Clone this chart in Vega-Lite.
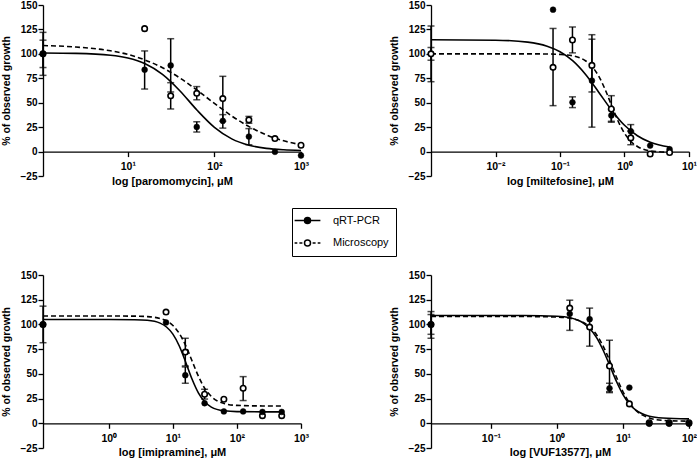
{
  "$schema": "https://vega.github.io/schema/vega-lite/v6.json",
  "padding": {"left": 1, "top": 0, "right": 0, "bottom": 0},
  "background": "white",
  "datasets": {
    "pts": [
      {"d": "paro", "s": "m", "x": 1.047, "y": 100, "lo": 78, "hi": 122},
      {"d": "paro", "s": "q", "x": 1.047, "y": 100, "lo": 86, "hi": 114},
      {"d": "paro", "s": "q", "x": 15.625, "y": 83.8, "lo": 64, "hi": 103},
      {"d": "paro", "s": "m", "x": 15.625, "y": 125.8},
      {"d": "paro", "s": "q", "x": 31.25, "y": 88.2, "lo": 61, "hi": 115.5},
      {"d": "paro", "s": "m", "x": 31.25, "y": 57, "lo": 43.6, "hi": 70.5},
      {"d": "paro", "s": "q", "x": 62.5, "y": 25.2, "lo": 20, "hi": 30.5},
      {"d": "paro", "s": "m", "x": 62.5, "y": 59.6, "lo": 53, "hi": 66.5},
      {"d": "paro", "s": "q", "x": 125, "y": 31.4, "lo": 24, "hi": 37.8},
      {"d": "paro", "s": "m", "x": 125, "y": 54.2, "lo": 31, "hi": 77},
      {"d": "paro", "s": "q", "x": 250, "y": 15.3, "lo": 7, "hi": 23.5},
      {"d": "paro", "s": "m", "x": 250, "y": 32.4, "lo": 29, "hi": 36},
      {"d": "paro", "s": "q", "x": 500, "y": -0.3},
      {"d": "paro", "s": "m", "x": 500, "y": 13.3},
      {"d": "paro", "s": "q", "x": 1000, "y": -4},
      {"d": "paro", "s": "m", "x": 1000, "y": 6.5},

      {"d": "milt", "s": "q", "x": 0.001, "y": 100, "lo": 93.5, "hi": 106.5},
      {"d": "milt", "s": "m", "x": 0.001, "y": 100, "lo": 71.5, "hi": 128.5},
      {"d": "milt", "s": "q", "x": 0.078, "y": 145.2},
      {"d": "milt", "s": "m", "x": 0.078, "y": 86.2, "lo": 47, "hi": 126},
      {"d": "milt", "s": "q", "x": 0.156, "y": 50.4, "lo": 45, "hi": 56},
      {"d": "milt", "s": "m", "x": 0.156, "y": 114.2, "lo": 101, "hi": 127.5},
      {"d": "milt", "s": "q", "x": 0.3125, "y": 72.6, "lo": 25, "hi": 119.6},
      {"d": "milt", "s": "m", "x": 0.3125, "y": 88.2, "lo": 61, "hi": 115},
      {"d": "milt", "s": "q", "x": 0.625, "y": 37, "lo": 31, "hi": 43},
      {"d": "milt", "s": "m", "x": 0.625, "y": 43.6, "lo": 30, "hi": 57.2},
      {"d": "milt", "s": "q", "x": 1.25, "y": 20.8, "lo": 14, "hi": 27.6},
      {"d": "milt", "s": "m", "x": 1.25, "y": 14, "lo": 7, "hi": 21},
      {"d": "milt", "s": "q", "x": 2.5, "y": 6.1},
      {"d": "milt", "s": "m", "x": 2.5, "y": -2.5},
      {"d": "milt", "s": "q", "x": 5, "y": 2.4},
      {"d": "milt", "s": "m", "x": 5, "y": -1},

      {"d": "imip", "s": "q", "x": 0.0938, "y": 100, "lo": 81.5, "hi": 118.5},
      {"d": "imip", "s": "m", "x": 0.0938, "y": 100},
      {"d": "imip", "s": "q", "x": 7.8125, "y": 102},
      {"d": "imip", "s": "m", "x": 7.8125, "y": 112.5},
      {"d": "imip", "s": "q", "x": 15.625, "y": 48.6, "lo": 40.5, "hi": 57},
      {"d": "imip", "s": "m", "x": 15.625, "y": 72, "lo": 58, "hi": 86},
      {"d": "imip", "s": "q", "x": 31.25, "y": 20.3},
      {"d": "imip", "s": "m", "x": 31.25, "y": 29.4, "lo": 24.5, "hi": 34.4},
      {"d": "imip", "s": "q", "x": 62.5, "y": 12},
      {"d": "imip", "s": "m", "x": 62.5, "y": 24.3},
      {"d": "imip", "s": "q", "x": 125, "y": 12},
      {"d": "imip", "s": "m", "x": 125, "y": 35.4, "lo": 23, "hi": 47.2},
      {"d": "imip", "s": "q", "x": 250, "y": 11.5},
      {"d": "imip", "s": "m", "x": 250, "y": 7.7},
      {"d": "imip", "s": "q", "x": 500, "y": 11.5},
      {"d": "imip", "s": "m", "x": 500, "y": 7.7},

      {"d": "vuf", "s": "q", "x": 0.01236, "y": 100, "lo": 86, "hi": 113},
      {"d": "vuf", "s": "m", "x": 0.01236, "y": 100, "lo": 90, "hi": 110},
      {"d": "vuf", "s": "q", "x": 1.5625, "y": 110.7, "lo": 94, "hi": 124.5},
      {"d": "vuf", "s": "m", "x": 1.5625, "y": 116.5},
      {"d": "vuf", "s": "q", "x": 3.125, "y": 105.3},
      {"d": "vuf", "s": "m", "x": 3.125, "y": 97.3, "lo": 78, "hi": 116.5},
      {"d": "vuf", "s": "q", "x": 6.25, "y": 35.4, "lo": 31, "hi": 40.5},
      {"d": "vuf", "s": "m", "x": 6.25, "y": 58, "lo": 32, "hi": 84},
      {"d": "vuf", "s": "q", "x": 12.5, "y": 36.1},
      {"d": "vuf", "s": "m", "x": 12.5, "y": 19.6},
      {"d": "vuf", "s": "q", "x": 25, "y": -0.5},
      {"d": "vuf", "s": "m", "x": 25, "y": 0.5},
      {"d": "vuf", "s": "q", "x": 50, "y": -0.5},
      {"d": "vuf", "s": "m", "x": 50, "y": 0.5},
      {"d": "vuf", "s": "q", "x": 100, "y": -0.5},
      {"d": "vuf", "s": "m", "x": 100, "y": 0.5}
    ],
    "cur": [
      {"d": "paro", "s": "q", "x": 1.047, "y": 100.9},
      {"d": "paro", "s": "q", "x": 2.512, "y": 100.5},
      {"d": "paro", "s": "q", "x": 6.31, "y": 98.6},
      {"d": "paro", "s": "q", "x": 10, "y": 95.7},
      {"d": "paro", "s": "q", "x": 15.85, "y": 89.8},
      {"d": "paro", "s": "q", "x": 25.12, "y": 79.0},
      {"d": "paro", "s": "q", "x": 39.81, "y": 62.3},
      {"d": "paro", "s": "q", "x": 63.1, "y": 42.3},
      {"d": "paro", "s": "q", "x": 100, "y": 24.8},
      {"d": "paro", "s": "q", "x": 158.5, "y": 13.0},
      {"d": "paro", "s": "q", "x": 251.2, "y": 6.5},
      {"d": "paro", "s": "q", "x": 398.1, "y": 3.3},
      {"d": "paro", "s": "q", "x": 631, "y": 1.8},
      {"d": "paro", "s": "q", "x": 1000, "y": 1.1},
      {"d": "paro", "s": "m", "x": 1.047, "y": 108.5},
      {"d": "paro", "s": "m", "x": 2.512, "y": 107.0},
      {"d": "paro", "s": "m", "x": 6.31, "y": 103.1},
      {"d": "paro", "s": "m", "x": 10, "y": 99.4},
      {"d": "paro", "s": "m", "x": 15.85, "y": 93.7},
      {"d": "paro", "s": "m", "x": 25.12, "y": 85.8},
      {"d": "paro", "s": "m", "x": 39.81, "y": 75.4},
      {"d": "paro", "s": "m", "x": 63.1, "y": 62.8},
      {"d": "paro", "s": "m", "x": 100, "y": 49.3},
      {"d": "paro", "s": "m", "x": 158.5, "y": 36.4},
      {"d": "paro", "s": "m", "x": 251.2, "y": 25.5},
      {"d": "paro", "s": "m", "x": 398.1, "y": 17.1},
      {"d": "paro", "s": "m", "x": 631, "y": 11.0},
      {"d": "paro", "s": "m", "x": 1000, "y": 7.0},

      {"d": "milt", "s": "q", "x": 0.001, "y": 114.5},
      {"d": "milt", "s": "q", "x": 0.01, "y": 114.0},
      {"d": "milt", "s": "q", "x": 0.0316, "y": 112.0},
      {"d": "milt", "s": "q", "x": 0.0631, "y": 107.8},
      {"d": "milt", "s": "q", "x": 0.1, "y": 102.2},
      {"d": "milt", "s": "q", "x": 0.1585, "y": 92.8},
      {"d": "milt", "s": "q", "x": 0.2512, "y": 78.7},
      {"d": "milt", "s": "q", "x": 0.3981, "y": 60.8},
      {"d": "milt", "s": "q", "x": 0.631, "y": 42.4},
      {"d": "milt", "s": "q", "x": 1, "y": 26.9},
      {"d": "milt", "s": "q", "x": 1.585, "y": 16.2},
      {"d": "milt", "s": "q", "x": 2.512, "y": 9.5},
      {"d": "milt", "s": "q", "x": 5.012, "y": 4.6},
      {"d": "milt", "s": "m", "x": 0.001, "y": 100},
      {"d": "milt", "s": "m", "x": 0.0316, "y": 100},
      {"d": "milt", "s": "m", "x": 0.0631, "y": 99.85},
      {"d": "milt", "s": "m", "x": 0.1, "y": 99.44},
      {"d": "milt", "s": "m", "x": 0.1585, "y": 97.94},
      {"d": "milt", "s": "m", "x": 0.2512, "y": 92.7},
      {"d": "milt", "s": "m", "x": 0.3162, "y": 86.7},
      {"d": "milt", "s": "m", "x": 0.3981, "y": 77.2},
      {"d": "milt", "s": "m", "x": 0.5012, "y": 63.5},
      {"d": "milt", "s": "m", "x": 0.631, "y": 47.2},
      {"d": "milt", "s": "m", "x": 0.7943, "y": 31.3},
      {"d": "milt", "s": "m", "x": 1, "y": 18.8},
      {"d": "milt", "s": "m", "x": 1.259, "y": 10.3},
      {"d": "milt", "s": "m", "x": 1.585, "y": 5.2},
      {"d": "milt", "s": "m", "x": 2.512, "y": 0.72},
      {"d": "milt", "s": "m", "x": 5.012, "y": -0.76},

      {"d": "imip", "s": "q", "x": 0.0938, "y": 105},
      {"d": "imip", "s": "q", "x": 1, "y": 105},
      {"d": "imip", "s": "q", "x": 2.512, "y": 104.8},
      {"d": "imip", "s": "q", "x": 3.981, "y": 104.2},
      {"d": "imip", "s": "q", "x": 6.31, "y": 101.3},
      {"d": "imip", "s": "q", "x": 7.943, "y": 97.4},
      {"d": "imip", "s": "q", "x": 10, "y": 90.2},
      {"d": "imip", "s": "q", "x": 12.59, "y": 78.2},
      {"d": "imip", "s": "q", "x": 15.85, "y": 61.8},
      {"d": "imip", "s": "q", "x": 19.95, "y": 44.5},
      {"d": "imip", "s": "q", "x": 25.12, "y": 30.5},
      {"d": "imip", "s": "q", "x": 31.62, "y": 21.5},
      {"d": "imip", "s": "q", "x": 39.81, "y": 16.4},
      {"d": "imip", "s": "q", "x": 63.1, "y": 12.6},
      {"d": "imip", "s": "q", "x": 100, "y": 11.75},
      {"d": "imip", "s": "q", "x": 501, "y": 11.5},
      {"d": "imip", "s": "m", "x": 0.0938, "y": 108.5},
      {"d": "imip", "s": "m", "x": 1, "y": 108.5},
      {"d": "imip", "s": "m", "x": 2.512, "y": 108.4},
      {"d": "imip", "s": "m", "x": 3.981, "y": 107.9},
      {"d": "imip", "s": "m", "x": 6.31, "y": 106.0},
      {"d": "imip", "s": "m", "x": 7.943, "y": 103.6},
      {"d": "imip", "s": "m", "x": 10, "y": 98.9},
      {"d": "imip", "s": "m", "x": 12.59, "y": 90.9},
      {"d": "imip", "s": "m", "x": 15.85, "y": 78.6},
      {"d": "imip", "s": "m", "x": 19.95, "y": 63.0},
      {"d": "imip", "s": "m", "x": 25.12, "y": 47.4},
      {"d": "imip", "s": "m", "x": 31.62, "y": 35.1},
      {"d": "imip", "s": "m", "x": 39.81, "y": 27.1},
      {"d": "imip", "s": "m", "x": 63.1, "y": 20.0},
      {"d": "imip", "s": "m", "x": 100, "y": 18.1},
      {"d": "imip", "s": "m", "x": 199.5, "y": 17.6},
      {"d": "imip", "s": "m", "x": 501, "y": 17.5},

      {"d": "vuf", "s": "q", "x": 0.01236, "y": 109},
      {"d": "vuf", "s": "q", "x": 0.3162, "y": 109},
      {"d": "vuf", "s": "q", "x": 1, "y": 108.3},
      {"d": "vuf", "s": "q", "x": 1.585, "y": 106.7},
      {"d": "vuf", "s": "q", "x": 2.512, "y": 101.4},
      {"d": "vuf", "s": "q", "x": 3.162, "y": 95.7},
      {"d": "vuf", "s": "q", "x": 3.981, "y": 86.7},
      {"d": "vuf", "s": "q", "x": 5.012, "y": 73.9},
      {"d": "vuf", "s": "q", "x": 6.31, "y": 58.4},
      {"d": "vuf", "s": "q", "x": 7.943, "y": 42.5},
      {"d": "vuf", "s": "q", "x": 10, "y": 29.0},
      {"d": "vuf", "s": "q", "x": 12.59, "y": 19.3},
      {"d": "vuf", "s": "q", "x": 15.85, "y": 13.0},
      {"d": "vuf", "s": "q", "x": 25.12, "y": 7.1},
      {"d": "vuf", "s": "q", "x": 39.81, "y": 5.3},
      {"d": "vuf", "s": "q", "x": 100, "y": 4.5},
      {"d": "vuf", "s": "m", "x": 0.01236, "y": 108},
      {"d": "vuf", "s": "m", "x": 0.3162, "y": 108},
      {"d": "vuf", "s": "m", "x": 1, "y": 107.5},
      {"d": "vuf", "s": "m", "x": 1.585, "y": 106.2},
      {"d": "vuf", "s": "m", "x": 2.512, "y": 101.9},
      {"d": "vuf", "s": "m", "x": 3.162, "y": 97.2},
      {"d": "vuf", "s": "m", "x": 3.981, "y": 89.5},
      {"d": "vuf", "s": "m", "x": 5.012, "y": 78.0},
      {"d": "vuf", "s": "m", "x": 6.31, "y": 63.2},
      {"d": "vuf", "s": "m", "x": 7.943, "y": 46.8},
      {"d": "vuf", "s": "m", "x": 10, "y": 31.9},
      {"d": "vuf", "s": "m", "x": 12.59, "y": 20.5},
      {"d": "vuf", "s": "m", "x": 15.85, "y": 12.8},
      {"d": "vuf", "s": "m", "x": 25.12, "y": 5.4},
      {"d": "vuf", "s": "m", "x": 39.81, "y": 3.0},
      {"d": "vuf", "s": "m", "x": 100, "y": 2.1}
    ],
    "leg": [
      {"s": "qRT-PCR", "x": 100, "y": 1000},
      {"s": "Microscopy", "x": 100, "y": 1000}
    ]
  },
  "columns": 2,
  "spacing": {"row": 99, "column": 130},
  "bounds": "flush",
  "concat": [
    {
      "width": 258, "height": 171,
      "layer": [
        {"data": {"name": "pts"}, "transform": [{"filter": "datum.d == 'paro' && isValid(datum.lo)"}],
         "mark": {"type": "errorbar", "ticks": true, "size": 7, "thickness": 1.5, "color": "black"},
         "encoding": {
           "x": {"field": "x", "type": "quantitative", "scale": {"type": "log", "domain": [1.047, 1000], "nice": false}, "axis": {"values": [10, 100, 1000], "offset": -24.4}, "title": "log [paromomycin], μM"},
           "y": {"field": "lo", "type": "quantitative", "scale": {"domain": [-25, 150], "nice": false, "zero": false}, "axis": {"values": [-25, 0, 25, 50, 75, 100, 125, 150]}, "title": "% of observed growth"},
           "y2": {"field": "hi"}}},
        {"data": {"name": "cur"}, "transform": [{"filter": "datum.d == 'paro' && datum.s == 'm'"}],
         "mark": {"type": "line", "color": "black", "strokeWidth": 1.6, "strokeDash": [5, 3], "interpolate": "monotone"},
         "encoding": {
           "x": {"field": "x", "type": "quantitative", "scale": {"type": "log", "domain": [1.047, 1000], "nice": false}, "axis": {"values": [10, 100, 1000], "offset": -24.4}, "title": "log [paromomycin], μM"},
           "y": {"field": "y", "type": "quantitative", "scale": {"domain": [-25, 150], "nice": false, "zero": false}, "axis": {"values": [-25, 0, 25, 50, 75, 100, 125, 150]}, "title": "% of observed growth"}}},
        {"data": {"name": "cur"}, "transform": [{"filter": "datum.d == 'paro' && datum.s == 'q'"}],
         "mark": {"type": "line", "color": "black", "strokeWidth": 1.6, "interpolate": "monotone"},
         "encoding": {
           "x": {"field": "x", "type": "quantitative", "scale": {"type": "log", "domain": [1.047, 1000], "nice": false}, "axis": {"values": [10, 100, 1000], "offset": -24.4}, "title": "log [paromomycin], μM"},
           "y": {"field": "y", "type": "quantitative", "scale": {"domain": [-25, 150], "nice": false, "zero": false}, "axis": {"values": [-25, 0, 25, 50, 75, 100, 125, 150]}, "title": "% of observed growth"}}},
        {"data": {"name": "pts"}, "transform": [{"filter": "datum.d == 'paro' && datum.s == 'm'"}],
         "mark": {"type": "point", "shape": "circle", "filled": true, "fill": "white", "stroke": "black", "strokeWidth": 1.6, "size": 30, "opacity": 1},
         "encoding": {
           "x": {"field": "x", "type": "quantitative", "scale": {"type": "log", "domain": [1.047, 1000], "nice": false}, "axis": {"values": [10, 100, 1000], "offset": -24.4}, "title": "log [paromomycin], μM"},
           "y": {"field": "y", "type": "quantitative", "scale": {"domain": [-25, 150], "nice": false, "zero": false}, "axis": {"values": [-25, 0, 25, 50, 75, 100, 125, 150]}, "title": "% of observed growth"}}},
        {"data": {"name": "pts"}, "transform": [{"filter": "datum.d == 'paro' && datum.s == 'q'"}],
         "mark": {"type": "point", "shape": "circle", "filled": true, "fill": "black", "stroke": "black", "strokeWidth": 0.5, "size": 34, "opacity": 1},
         "encoding": {
           "x": {"field": "x", "type": "quantitative", "scale": {"type": "log", "domain": [1.047, 1000], "nice": false}, "axis": {"values": [10, 100, 1000], "offset": -24.4}, "title": "log [paromomycin], μM"},
           "y": {"field": "y", "type": "quantitative", "scale": {"domain": [-25, 150], "nice": false, "zero": false}, "axis": {"values": [-25, 0, 25, 50, 75, 100, 125, 150]}, "title": "% of observed growth"}}},
        {"data": {"name": "leg"},
         "mark": {"type": "point", "filled": false, "color": "black", "strokeWidth": 1.4, "size": 36, "opacity": 1, "clip": true},
         "encoding": {
           "x": {"field": "x", "type": "quantitative", "scale": {"type": "log", "domain": [1.047, 1000], "nice": false}, "axis": {"values": [10, 100, 1000], "offset": -24.4}, "title": "log [paromomycin], μM"},
           "y": {"field": "y", "type": "quantitative", "scale": {"domain": [-25, 150], "nice": false, "zero": false}, "axis": {"values": [-25, 0, 25, 50, 75, 100, 125, 150]}, "title": "% of observed growth"},
           "shape": {"field": "s", "type": "nominal",
             "scale": {"domain": ["qRT-PCR", "Microscopy"], "range": ["M-4.3,0H4.3M-1,0A1,1,0,1,0,1,0A1,1,0,1,0,-1,0ZM-0.55,0A0.55,0.55,0,1,0,0.55,0A0.55,0.55,0,1,0,-0.55,0ZM-0.15,0A0.15,0.15,0,1,0,0.15,0A0.15,0.15,0,1,0,-0.15,0Z", "M-4.3,0H-3.4M-2.7,0H-1.7M1.7,0H2.7M3.4,0H4.3M-1,0A1,1,0,1,0,1,0A1,1,0,1,0,-1,0Z"]},
             "legend": {"orient": "none", "legendX": 249, "legendY": 203, "title": null, "strokeColor": "black", "fillColor": "white", "padding": 7, "symbolSize": 36, "symbolOffset": 3, "labelOffset": 20, "rowPadding": 9.5, "labelFontSize": 11, "labelColor": "black", "labelExpr": "datum.label + '\u00a0\u00a0\u00a0'"}}}}
      ]
    },
    {
      "width": 258, "height": 171,
      "layer": [
        {"data": {"name": "pts"}, "transform": [{"filter": "datum.d == 'milt' && isValid(datum.lo)"}],
         "mark": {"type": "errorbar", "ticks": true, "size": 7, "thickness": 1.5, "color": "black"},
         "encoding": {
           "x": {"field": "x", "type": "quantitative", "scale": {"type": "log", "domain": [0.001, 10], "nice": false}, "axis": {"values": [0.01, 0.1, 1, 10], "offset": -24.4}, "title": "log [miltefosine], μM"},
           "y": {"field": "lo", "type": "quantitative", "scale": {"domain": [-25, 150], "nice": false, "zero": false}, "axis": {"values": [-25, 0, 25, 50, 75, 100, 125, 150]}, "title": "% of observed growth"},
           "y2": {"field": "hi"}}},
        {"data": {"name": "cur"}, "transform": [{"filter": "datum.d == 'milt' && datum.s == 'm'"}],
         "mark": {"type": "line", "color": "black", "strokeWidth": 1.6, "strokeDash": [5, 3], "interpolate": "monotone"},
         "encoding": {
           "x": {"field": "x", "type": "quantitative", "scale": {"type": "log", "domain": [0.001, 10], "nice": false}, "axis": {"values": [0.01, 0.1, 1, 10], "offset": -24.4}, "title": "log [miltefosine], μM"},
           "y": {"field": "y", "type": "quantitative", "scale": {"domain": [-25, 150], "nice": false, "zero": false}, "axis": {"values": [-25, 0, 25, 50, 75, 100, 125, 150]}, "title": "% of observed growth"}}},
        {"data": {"name": "cur"}, "transform": [{"filter": "datum.d == 'milt' && datum.s == 'q'"}],
         "mark": {"type": "line", "color": "black", "strokeWidth": 1.6, "interpolate": "monotone"},
         "encoding": {
           "x": {"field": "x", "type": "quantitative", "scale": {"type": "log", "domain": [0.001, 10], "nice": false}, "axis": {"values": [0.01, 0.1, 1, 10], "offset": -24.4}, "title": "log [miltefosine], μM"},
           "y": {"field": "y", "type": "quantitative", "scale": {"domain": [-25, 150], "nice": false, "zero": false}, "axis": {"values": [-25, 0, 25, 50, 75, 100, 125, 150]}, "title": "% of observed growth"}}},
        {"data": {"name": "pts"}, "transform": [{"filter": "datum.d == 'milt' && datum.s == 'q'"}],
         "mark": {"type": "point", "shape": "circle", "filled": true, "fill": "black", "stroke": "black", "strokeWidth": 0.5, "size": 34, "opacity": 1},
         "encoding": {
           "x": {"field": "x", "type": "quantitative", "scale": {"type": "log", "domain": [0.001, 10], "nice": false}, "axis": {"values": [0.01, 0.1, 1, 10], "offset": -24.4}, "title": "log [miltefosine], μM"},
           "y": {"field": "y", "type": "quantitative", "scale": {"domain": [-25, 150], "nice": false, "zero": false}, "axis": {"values": [-25, 0, 25, 50, 75, 100, 125, 150]}, "title": "% of observed growth"}}},
        {"data": {"name": "pts"}, "transform": [{"filter": "datum.d == 'milt' && datum.s == 'm'"}],
         "mark": {"type": "point", "shape": "circle", "filled": true, "fill": "white", "stroke": "black", "strokeWidth": 1.6, "size": 30, "opacity": 1},
         "encoding": {
           "x": {"field": "x", "type": "quantitative", "scale": {"type": "log", "domain": [0.001, 10], "nice": false}, "axis": {"values": [0.01, 0.1, 1, 10], "offset": -24.4}, "title": "log [miltefosine], μM"},
           "y": {"field": "y", "type": "quantitative", "scale": {"domain": [-25, 150], "nice": false, "zero": false}, "axis": {"values": [-25, 0, 25, 50, 75, 100, 125, 150]}, "title": "% of observed growth"}}}
      ]
    },
    {
      "width": 258, "height": 173,
      "layer": [
        {"data": {"name": "pts"}, "transform": [{"filter": "datum.d == 'imip' && isValid(datum.lo)"}],
         "mark": {"type": "errorbar", "ticks": true, "size": 7, "thickness": 1.5, "color": "black"},
         "encoding": {
           "x": {"field": "x", "type": "quantitative", "scale": {"type": "log", "domain": [0.0938, 1000], "nice": false}, "axis": {"values": [1, 10, 100, 1000], "offset": -24.7}, "title": "log [imipramine], μM"},
           "y": {"field": "lo", "type": "quantitative", "scale": {"domain": [-25, 150], "nice": false, "zero": false}, "axis": {"values": [-25, 0, 25, 50, 75, 100, 125, 150]}, "title": "% of observed growth"},
           "y2": {"field": "hi"}}},
        {"data": {"name": "cur"}, "transform": [{"filter": "datum.d == 'imip' && datum.s == 'm'"}],
         "mark": {"type": "line", "color": "black", "strokeWidth": 1.6, "strokeDash": [5, 3], "interpolate": "monotone"},
         "encoding": {
           "x": {"field": "x", "type": "quantitative", "scale": {"type": "log", "domain": [0.0938, 1000], "nice": false}, "axis": {"values": [1, 10, 100, 1000], "offset": -24.7}, "title": "log [imipramine], μM"},
           "y": {"field": "y", "type": "quantitative", "scale": {"domain": [-25, 150], "nice": false, "zero": false}, "axis": {"values": [-25, 0, 25, 50, 75, 100, 125, 150]}, "title": "% of observed growth"}}},
        {"data": {"name": "cur"}, "transform": [{"filter": "datum.d == 'imip' && datum.s == 'q'"}],
         "mark": {"type": "line", "color": "black", "strokeWidth": 1.6, "interpolate": "monotone"},
         "encoding": {
           "x": {"field": "x", "type": "quantitative", "scale": {"type": "log", "domain": [0.0938, 1000], "nice": false}, "axis": {"values": [1, 10, 100, 1000], "offset": -24.7}, "title": "log [imipramine], μM"},
           "y": {"field": "y", "type": "quantitative", "scale": {"domain": [-25, 150], "nice": false, "zero": false}, "axis": {"values": [-25, 0, 25, 50, 75, 100, 125, 150]}, "title": "% of observed growth"}}},
        {"data": {"name": "pts"}, "transform": [{"filter": "datum.d == 'imip' && datum.s == 'm'"}],
         "mark": {"type": "point", "shape": "circle", "filled": true, "fill": "white", "stroke": "black", "strokeWidth": 1.6, "size": 30, "opacity": 1},
         "encoding": {
           "x": {"field": "x", "type": "quantitative", "scale": {"type": "log", "domain": [0.0938, 1000], "nice": false}, "axis": {"values": [1, 10, 100, 1000], "offset": -24.7}, "title": "log [imipramine], μM"},
           "y": {"field": "y", "type": "quantitative", "scale": {"domain": [-25, 150], "nice": false, "zero": false}, "axis": {"values": [-25, 0, 25, 50, 75, 100, 125, 150]}, "title": "% of observed growth"}}},
        {"data": {"name": "pts"}, "transform": [{"filter": "datum.d == 'imip' && datum.s == 'q'"}],
         "mark": {"type": "point", "shape": "circle", "filled": true, "fill": "black", "stroke": "black", "strokeWidth": 0.5, "size": 34, "opacity": 1},
         "encoding": {
           "x": {"field": "x", "type": "quantitative", "scale": {"type": "log", "domain": [0.0938, 1000], "nice": false}, "axis": {"values": [1, 10, 100, 1000], "offset": -24.7}, "title": "log [imipramine], μM"},
           "y": {"field": "y", "type": "quantitative", "scale": {"domain": [-25, 150], "nice": false, "zero": false}, "axis": {"values": [-25, 0, 25, 50, 75, 100, 125, 150]}, "title": "% of observed growth"}}}
      ]
    },
    {
      "width": 258, "height": 173,
      "layer": [
        {"data": {"name": "pts"}, "transform": [{"filter": "datum.d == 'vuf' && isValid(datum.lo)"}],
         "mark": {"type": "errorbar", "ticks": true, "size": 7, "thickness": 1.5, "color": "black"},
         "encoding": {
           "x": {"field": "x", "type": "quantitative", "scale": {"type": "log", "domain": [0.01236, 100], "nice": false}, "axis": {"values": [0.1, 1, 10, 100], "offset": -24.7}, "title": "log [VUF13577], μM"},
           "y": {"field": "lo", "type": "quantitative", "scale": {"domain": [-25, 150], "nice": false, "zero": false}, "axis": {"values": [-25, 0, 25, 50, 75, 100, 125, 150]}, "title": "% of observed growth"},
           "y2": {"field": "hi"}}},
        {"data": {"name": "cur"}, "transform": [{"filter": "datum.d == 'vuf' && datum.s == 'm'"}],
         "mark": {"type": "line", "color": "black", "strokeWidth": 1.6, "strokeDash": [5, 3], "interpolate": "monotone"},
         "encoding": {
           "x": {"field": "x", "type": "quantitative", "scale": {"type": "log", "domain": [0.01236, 100], "nice": false}, "axis": {"values": [0.1, 1, 10, 100], "offset": -24.7}, "title": "log [VUF13577], μM"},
           "y": {"field": "y", "type": "quantitative", "scale": {"domain": [-25, 150], "nice": false, "zero": false}, "axis": {"values": [-25, 0, 25, 50, 75, 100, 125, 150]}, "title": "% of observed growth"}}},
        {"data": {"name": "cur"}, "transform": [{"filter": "datum.d == 'vuf' && datum.s == 'q'"}],
         "mark": {"type": "line", "color": "black", "strokeWidth": 1.6, "interpolate": "monotone"},
         "encoding": {
           "x": {"field": "x", "type": "quantitative", "scale": {"type": "log", "domain": [0.01236, 100], "nice": false}, "axis": {"values": [0.1, 1, 10, 100], "offset": -24.7}, "title": "log [VUF13577], μM"},
           "y": {"field": "y", "type": "quantitative", "scale": {"domain": [-25, 150], "nice": false, "zero": false}, "axis": {"values": [-25, 0, 25, 50, 75, 100, 125, 150]}, "title": "% of observed growth"}}},
        {"data": {"name": "pts"}, "transform": [{"filter": "datum.d == 'vuf' && datum.s == 'm'"}],
         "mark": {"type": "point", "shape": "circle", "filled": true, "fill": "white", "stroke": "black", "strokeWidth": 1.6, "size": 30, "opacity": 1},
         "encoding": {
           "x": {"field": "x", "type": "quantitative", "scale": {"type": "log", "domain": [0.01236, 100], "nice": false}, "axis": {"values": [0.1, 1, 10, 100], "offset": -24.7}, "title": "log [VUF13577], μM"},
           "y": {"field": "y", "type": "quantitative", "scale": {"domain": [-25, 150], "nice": false, "zero": false}, "axis": {"values": [-25, 0, 25, 50, 75, 100, 125, 150]}, "title": "% of observed growth"}}},
        {"data": {"name": "pts"}, "transform": [{"filter": "datum.d == 'vuf' && datum.s == 'q'"}],
         "mark": {"type": "point", "shape": "circle", "filled": true, "fill": "black", "stroke": "black", "strokeWidth": 0.5, "size": 34, "opacity": 1},
         "encoding": {
           "x": {"field": "x", "type": "quantitative", "scale": {"type": "log", "domain": [0.01236, 100], "nice": false}, "axis": {"values": [0.1, 1, 10, 100], "offset": -24.7}, "title": "log [VUF13577], μM"},
           "y": {"field": "y", "type": "quantitative", "scale": {"domain": [-25, 150], "nice": false, "zero": false}, "axis": {"values": [-25, 0, 25, 50, 75, 100, 125, 150]}, "title": "% of observed growth"}}}
      ]
    }
  ],
  "config": {
    "font": "Liberation Sans",
    "view": {"stroke": null},
    "axis": {"grid": false, "domainColor": "black", "domainWidth": 1.3, "tickColor": "black", "tickWidth": 1.3, "tickSize": 5, "labelColor": "black", "labelFont": "Liberation Sans", "labelFontSize": 10, "labelFontWeight": "bold", "titleColor": "black", "titleFont": "Liberation Sans", "titleFontWeight": "bold", "labelFlush": false, "labelOverlap": false, "labelPadding": 1, "labelBound": false},
    "axisX": {"labelExpr": "'10' + replace(replace(replace(replace(replace('' + round(log(datum.value)/LN10), '-', '⁻'), '0', '⁰'), '1', '¹'), '2', '²'), '3', '³')", "titleFontSize": 11, "titlePadding": 3, "labelPadding": 5, "labelFontSize": 10.5},
    "axisY": {"titleFontSize": 10.5, "titlePadding": 9},
    "legend": {"labelFont": "Liberation Sans", "labelFontSize": 11, "labelColor": "black"}
  }
}
